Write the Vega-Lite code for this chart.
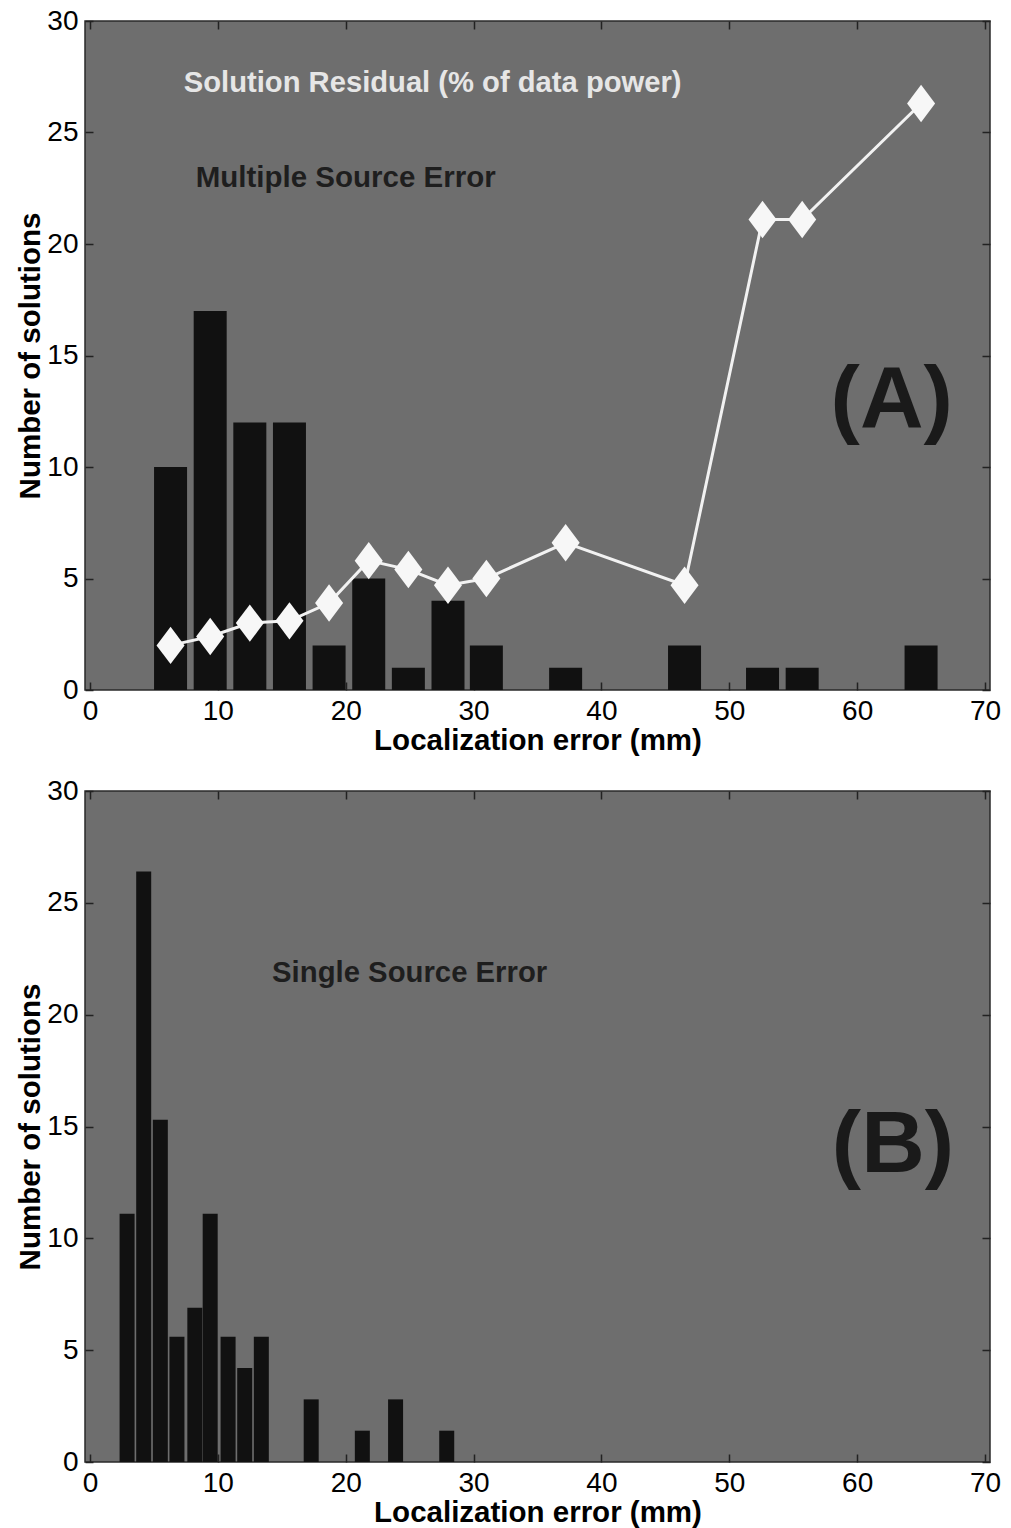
{
  "$schema": "https://vega.github.io/schema/vega-lite/v6.json",
  "background": "#ffffff",
  "padding": {"left": 15, "top": 6, "right": 5, "bottom": 0},
  "spacing": 20,
  "config": {
    "font": "Liberation Sans",
    "view": {"fill": "#6e6e6e", "stroke": "#2a2a2a", "strokeWidth": 1.5},
    "axis": {
      "grid": false,
      "domain": false,
      "tickColor": "#222222",
      "tickSize": -8,
      "tickWidth": 1.5,
      "labelFontSize": 28,
      "labelColor": "#000000",
      "labelFont": "Liberation Sans",
      "labelFlush": false,
      "labelPadding": 15,
      "titleFontSize": 29.5,
      "titleFontWeight": "bold",
      "titleColor": "#000000",
      "titleFont": "Liberation Sans",
      "titlePadding": 1
    }
  },
  "datasets": {
    "a_bars": [
      {"err": 6.3, "n": 10}, {"err": 9.4, "n": 17}, {"err": 12.5, "n": 12}, {"err": 15.6, "n": 12},
      {"err": 18.7, "n": 2}, {"err": 21.8, "n": 5}, {"err": 24.9, "n": 1}, {"err": 28.0, "n": 4},
      {"err": 31.0, "n": 2}, {"err": 37.2, "n": 1}, {"err": 46.5, "n": 2}, {"err": 52.6, "n": 1},
      {"err": 55.7, "n": 1}, {"err": 65.0, "n": 2}
    ],
    "a_resid": [
      {"err": 6.3, "r": 2.0}, {"err": 9.4, "r": 2.4}, {"err": 12.5, "r": 3.0}, {"err": 15.6, "r": 3.1},
      {"err": 18.7, "r": 3.9}, {"err": 21.8, "r": 5.8}, {"err": 24.9, "r": 5.4}, {"err": 28.0, "r": 4.7},
      {"err": 31.0, "r": 5.0}, {"err": 37.2, "r": 6.6}, {"err": 46.5, "r": 4.7}, {"err": 52.6, "r": 21.1},
      {"err": 55.7, "r": 21.1}, {"err": 65.0, "r": 26.3}
    ],
    "b_bars": [
      {"err": 2.9, "n": 11.1}, {"err": 4.2, "n": 26.4}, {"err": 5.5, "n": 15.3}, {"err": 6.8, "n": 5.6},
      {"err": 8.2, "n": 6.9}, {"err": 9.4, "n": 11.1}, {"err": 10.8, "n": 5.6}, {"err": 12.1, "n": 4.2},
      {"err": 13.4, "n": 5.6}, {"err": 17.3, "n": 2.8}, {"err": 21.3, "n": 1.4}, {"err": 23.9, "n": 2.8},
      {"err": 27.9, "n": 1.4}
    ],
    "one": [{}]
  },
  "vconcat": [
    {
      "width": 905,
      "height": 669,
      "resolve": {"axis": {"x": "independent", "y": "independent"}},
      "layer": [
        {
          "data": {"name": "a_bars"},
          "mark": {"type": "bar", "size": 33, "color": "#111111"},
          "encoding": {
            "x": {"field": "err", "type": "quantitative", "scale": {"domain": [0, 70], "nice": false},
                  "axis": {"orient": "bottom", "values": [0, 10, 20, 30, 40, 50, 60, 70], "title": "Localization error (mm)"}},
            "y": {"field": "n", "type": "quantitative", "scale": {"domain": [0, 30], "nice": false},
                  "axis": {"orient": "left", "values": [0, 5, 10, 15, 20, 25, 30], "title": "Number of solutions"}}
          }
        },
        {
          "data": {"name": "a_resid"},
          "mark": {"type": "line", "color": "#f2f2f2", "strokeWidth": 3},
          "encoding": {
            "x": {"field": "err", "type": "quantitative",
                  "axis": {"orient": "top", "values": [0, 10, 20, 30, 40, 50, 60, 70], "labels": false, "title": null}},
            "y": {"field": "r", "type": "quantitative",
                  "axis": {"orient": "right", "values": [0, 5, 10, 15, 20, 25, 30], "labels": false, "title": null}}
          }
        },
        {
          "data": {"name": "a_resid"},
          "mark": {"type": "point", "shape": "M0,-1L0.75,0L0,1L-0.75,0Z", "filled": true, "color": "#f7f7f7", "opacity": 1, "size": 1400},
          "encoding": {
            "x": {"field": "err", "type": "quantitative", "axis": null},
            "y": {"field": "r", "type": "quantitative", "axis": null}
          }
        },
        {
          "data": {"name": "one"},
          "mark": {"type": "text", "text": "Solution Residual (% of data power)", "fontSize": 29.2, "fontWeight": "bold", "color": "#e6e6e6", "align": "center", "baseline": "middle"},
          "encoding": {
            "x": {"datum": 26.8, "type": "quantitative", "axis": null},
            "y": {"datum": 27.2, "type": "quantitative", "axis": null}
          }
        },
        {
          "data": {"name": "one"},
          "mark": {"type": "text", "text": "Multiple Source Error", "fontSize": 29.5, "fontWeight": "bold", "color": "#1e1e1e", "align": "center", "baseline": "middle"},
          "encoding": {
            "x": {"datum": 20.0, "type": "quantitative", "axis": null},
            "y": {"datum": 22.95, "type": "quantitative", "axis": null}
          }
        },
        {
          "data": {"name": "one"},
          "mark": {"type": "text", "text": "(A)", "fontSize": 88, "fontWeight": "bold", "color": "#1a1a1a", "align": "center", "baseline": "middle"},
          "encoding": {
            "x": {"datum": 62.7, "type": "quantitative", "axis": null},
            "y": {"datum": 12.95, "type": "quantitative", "axis": null}
          }
        }
      ]
    },
    {
      "width": 905,
      "height": 671,
      "resolve": {"axis": {"x": "independent", "y": "independent"}},
      "layer": [
        {
          "data": {"name": "b_bars"},
          "mark": {"type": "bar", "size": 15, "color": "#111111"},
          "encoding": {
            "x": {"field": "err", "type": "quantitative", "scale": {"domain": [0, 70], "nice": false},
                  "axis": {"orient": "bottom", "values": [0, 10, 20, 30, 40, 50, 60, 70], "title": "Localization error (mm)"}},
            "y": {"field": "n", "type": "quantitative", "scale": {"domain": [0, 30], "nice": false},
                  "axis": {"orient": "left", "values": [0, 5, 10, 15, 20, 25, 30], "title": "Number of solutions"}}
          }
        },
        {
          "data": {"name": "one"},
          "mark": {"type": "text", "text": "Single Source Error", "fontSize": 29.3, "fontWeight": "bold", "color": "#1e1e1e", "align": "center", "baseline": "middle"},
          "encoding": {
            "x": {"datum": 25.0, "type": "quantitative",
                  "axis": {"orient": "top", "values": [0, 10, 20, 30, 40, 50, 60, 70], "labels": false, "title": null}},
            "y": {"datum": 21.85, "type": "quantitative",
                  "axis": {"orient": "right", "values": [0, 5, 10, 15, 20, 25, 30], "labels": false, "title": null}}
          }
        },
        {
          "data": {"name": "one"},
          "mark": {"type": "text", "text": "(B)", "fontSize": 88, "fontWeight": "bold", "color": "#1a1a1a", "align": "center", "baseline": "middle"},
          "encoding": {
            "x": {"datum": 62.8, "type": "quantitative", "axis": null},
            "y": {"datum": 14.15, "type": "quantitative", "axis": null}
          }
        }
      ]
    }
  ]
}
